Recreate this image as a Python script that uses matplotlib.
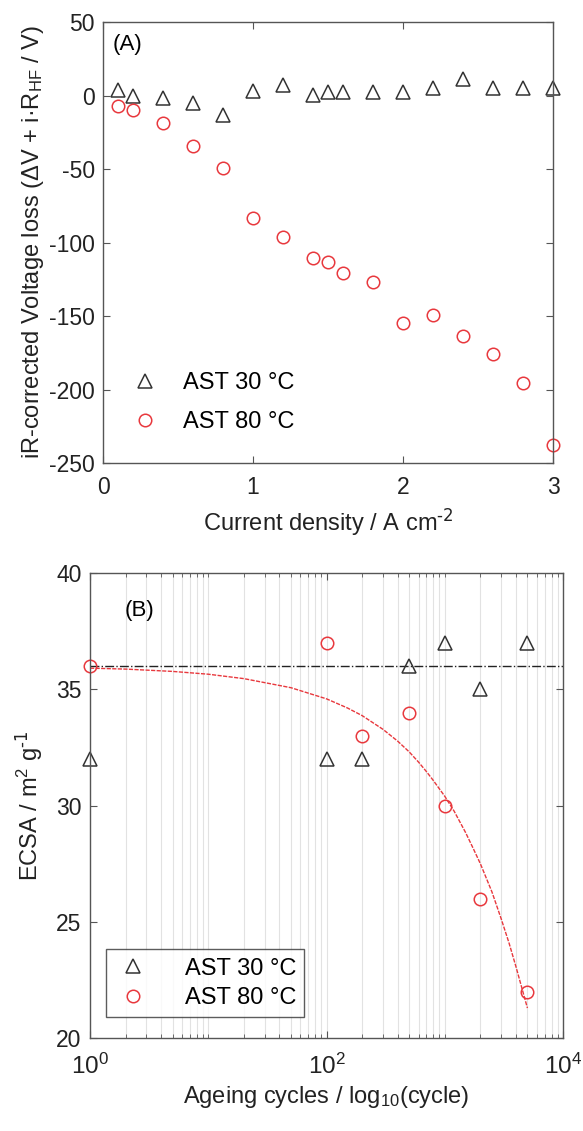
import matplotlib as mpl
mpl.use('Agg')

import matplotlib.pyplot as plt
import matplotlib.ticker as mticker
import numpy as np

plt.rcParams['font.family'] = ['Liberation Sans', 'DejaVu Sans']
plt.rcParams['mathtext.default'] = 'regular'
plt.rcParams['axes.unicode_minus'] = False

# Panel A: iR-corrected voltage loss vs current density
current = [0.1, 0.2, 0.4, 0.6, 0.8, 1.0, 1.2, 1.4, 1.5, 1.6, 1.8, 2.0, 2.2, 2.4, 2.6, 2.8, 3.0]
loss_30 = [4, 0, -1.5, -5, -13, 3, 7, 0.5, 2.5, 2.5, 2.5, 2.5, 5, 11, 5, 5, 5]
loss_80 = [-7, -9.5, -19, -34, -49, -83.5, -96.5, -110.5, -113, -121, -127, -155, -149, -163.5,
           -176, -195.5, -238]

# Panel B: ECSA vs ageing cycles
cycles = [1, 100, 200, 500, 1000, 2000, 5000]
ecsa_30 = [32, 32, 32, 36, 37, 35, 37]
ecsa_80 = [36, 37, 33, 34, 30, 26, 22]

# fit lines
fit30_x = [1, 10000]
fit30_y = [36, 36]
fit80_x = [1, 2, 5, 10, 20, 50, 100, 150, 200, 300, 400, 500, 600, 700, 800, 1000, 1200,
           1500, 1750, 2000, 2500, 3000, 3500, 4000, 4500, 5000]
fit80_y = [35.91, 35.87, 35.77, 35.65, 35.46, 35.07, 34.59, 34.2, 33.87, 33.28, 32.77, 32.31,
           31.87, 31.46, 31.08, 30.4, 29.76, 28.84, 28.13, 27.5, 26.3, 25.13, 24.08, 23.07,
           22.13, 21.29]

black = '#333333'
red = '#e8383d'
spine = '#555555'
txt = '#222222'

fig = plt.figure(figsize=(5.83, 11.31), dpi=100)
ax1 = fig.add_axes([0.1767, 0.5906, 0.772, 0.3899])
ax2 = fig.add_axes([0.1544, 0.0822, 0.8113, 0.4111])

for ax in (ax1, ax2):
    for s in ax.spines.values():
        s.set_color(spine)
        s.set_linewidth(1.0)
    ax.tick_params(direction='in', top=True, right=True, labelsize=16.5,
                   color=spine, labelcolor=txt, length=5)
    ax.tick_params(which='minor', direction='in', top=True, right=True, color=spine, length=3)
    ax.tick_params(axis='x', pad=9)
    ax.tick_params(axis='y', pad=6)

# (A)
ax1.plot(current, loss_30, linestyle='none', marker='^', markersize=10, markerfacecolor='none',
         markeredgecolor=black, markeredgewidth=1.1, label='AST 30 °C', clip_on=False)
ax1.plot(current, loss_80, linestyle='none', marker='o', markersize=9, markerfacecolor='none',
         markeredgecolor=red, markeredgewidth=1.1, label='AST 80 °C', clip_on=False)
ax1.set_xlim(0, 3)
ax1.set_ylim(-250, 50)
ax1.set_xticks([0, 1, 2, 3])
ax1.set_yticks(np.arange(-250, 51, 50))
ax1.set_xlabel(r'Current density / A cm$^{\text{-2}}$', fontsize=17, color=txt, labelpad=6)
ax1.set_ylabel('iR-corrected Voltage loss (ΔV + i·R$_{HF}$ / V)', fontsize=17,
               color=txt, labelpad=2)
ax1.text(0.022, 0.948, '(A)', transform=ax1.transAxes, fontsize=16, va='center', ha='left')
ax1.legend(loc='lower left', bbox_to_anchor=(0.015, 0.02), frameon=False, fontsize=17,
           handlelength=1.2, handletextpad=1.0, labelspacing=0.7)

# (B)
ax2.set_xscale('log')
ax2.grid(True, which='both', axis='x', color='#e2e2e2', linewidth=0.8)
ax2.set_axisbelow(True)
ax2.plot(fit30_x, fit30_y, color='#222222', linestyle='-.', linewidth=1.0)
ax2.plot(fit80_x, fit80_y, color=red, linestyle='--', linewidth=1.0, dashes=(3, 1))
ax2.plot(cycles, ecsa_30, linestyle='none', marker='^', markersize=10, markerfacecolor='none',
         markeredgecolor=black, markeredgewidth=1.1, label='AST 30 °C', clip_on=False)
ax2.plot(cycles, ecsa_80, linestyle='none', marker='o', markersize=9, markerfacecolor='none',
         markeredgecolor=red, markeredgewidth=1.1, label='AST 80 °C', clip_on=False)
ax2.set_xlim(1, 1e4)
ax2.set_ylim(20, 40)
ax2.set_yticks([20, 25, 30, 35, 40])
ax2.xaxis.set_major_locator(mticker.FixedLocator([1, 100, 10000]))
ax2.xaxis.set_minor_locator(mticker.LogLocator(base=10, subs=np.arange(1, 10), numticks=20))
ax2.xaxis.set_minor_formatter(mticker.NullFormatter())
ax2.tick_params(axis='x', labelsize=17.5, pad=11)
ax2.set_xlabel('Ageing cycles / log$_{10}$(cycle)', fontsize=17, color=txt, labelpad=4)
ax2.set_ylabel(r'ECSA / m$^{2}$ g$^{\text{-1}}$', fontsize=17, color=txt, labelpad=8)
ax2.text(0.074, 0.92, '(B)', transform=ax2.transAxes, fontsize=16, va='center', ha='left')
leg = ax2.legend(loc='lower left', bbox_to_anchor=(0.033, 0.045), frameon=True, fancybox=False,
                 fontsize=17, handlelength=1.6, handletextpad=1.4, labelspacing=0.3,
                 borderpad=0.35, borderaxespad=0)
leg.get_frame().set_edgecolor('#333333')
leg.get_frame().set_linewidth(1.0)

fig.savefig('out.png', dpi=100)
